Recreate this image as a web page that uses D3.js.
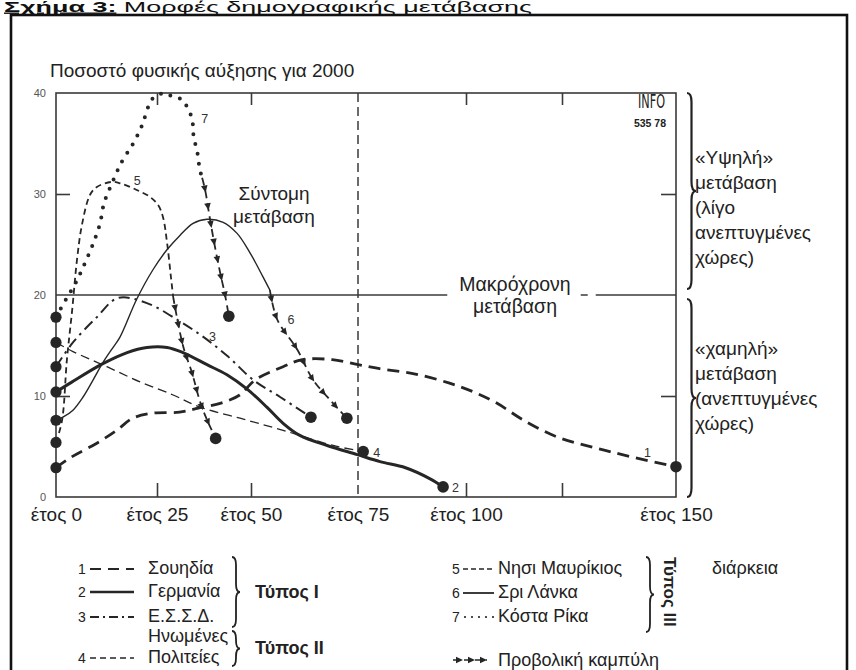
<!DOCTYPE html>
<html><head><meta charset="utf-8">
<script src="https://cdn.jsdelivr.net/npm/d3@7"></script>
<style>
body{margin:0;background:#fff}
svg{display:block}
text{font-family:"Liberation Sans",Arial,Helvetica,sans-serif;fill:#222}
</style>
</head><body>
<svg id="c" width="856" height="670"></svg>
<script>
// ---------- DATA ----------
const yearTicks = [0,25,50,75,100,125,150];
const yearLabels = [0,25,50,75,100,150];
const innerYearTicks = [25,50,100,125];
const valueTicks = [0,10,20,30,40];

const swedenYears  = [0,4,10,15,19,24,31,36,42,47,51,57.5,62,69,75,80,88,96,102,108,115,124,132,140,150];
const swedenValues = [2.9,4.0,5.3,6.6,7.8,8.3,8.4,8.8,9.3,10.1,11.6,12.9,13.6,13.6,13.1,12.7,12.2,11.3,10.4,9.3,7.6,5.9,4.9,4.0,3.0];

const germanyYears  = [0,4,11.6,17.6,22.5,27.7,31.9,38.3,43.6,48.9,53.7,57.5,61.4,67.8,74.8,80.1,86,91.7,94.7];
const germanyValues = [10.4,11.4,13.2,14.3,14.8,14.8,14.3,13.1,12.1,10.7,8.9,7.3,6.1,5.1,4.2,3.5,2.9,1.8,1.0];

const ussrYears  = [0,4.2,10.1,15.3,22.5,30.6,37.5,43.9,50.5,56.8,64.0];
const ussrValues = [12.9,15.3,17.8,19.7,19.2,17.5,15.8,13.9,11.6,9.9,7.9];

const usaYears  = [0,4.2,12.6,20.8,29.3,36.4,47.1,57.5,69.2,76.2];
const usaValues = [15.3,14.4,12.9,11.4,10.1,8.9,7.8,6.6,5.1,4.5];

const mauritiusYears  = [0,1.5,2.7,4.0,5.2,6.4,8.4,10.1,13.9,16.3,20.0,23.3,25.3,26.6,27.7,28.7,29.3];
const mauritiusValues = [5.4,7.6,13.6,18.5,23.5,26.9,29.9,30.7,31.2,31.0,30.4,29.7,28.9,27.7,25.1,21.8,19.8];
const mauritiusProjYears  = [29.3,31.9,34.3,36.4,38.0,40.6];
const mauritiusProjValues = [19.8,15.0,12.3,9.5,7.9,5.8];

const sriLankaYears  = [0,1.7,4.2,6.7,9.2,11.6,14.1,15.8,20.0,24.0,27.7,31.1,34.6,38.3,42.6,46.3,49.7,52.8,54.4];
const sriLankaValues = [7.6,7.9,8.6,9.9,11.6,13.3,14.8,15.8,19.6,22.5,24.5,25.9,27.1,27.5,27.2,26.1,24.2,21.8,20.5];
const sriLankaProjYears  = [54.4,56.1,60.8,64.5,68.5,72.4];
const sriLankaProjValues = [20.5,17.6,14.6,11.6,9.6,7.8];

const costaRicaYears  = [0,2.5,5.0,7.2,9.2,10.9,11.9,13.9,16.3,19.1,21.3,22.8,24.0,25.3,27.2,29.3,31.9,33.2,34.3,34.8,35.6,36.4,37.0];
const costaRicaValues = [17.8,19.6,21.3,23.2,25.1,27.1,29.1,31.1,33.2,35.0,36.8,38.6,39.5,39.8,40.0,39.6,39.3,38.4,37.5,35.5,34.4,32.4,31.6];
const costaRicaProjYears  = [37.0,37.8,39.1,40.4,41.8,43.1,44.1];
const costaRicaProjValues = [31.6,30.4,27.5,24.8,22.2,20.0,17.9];

const seriesIds    = ["1","2","3","4","5","6","7"];
const seriesNames  = ["Σουηδία","Γερμανία","Ε.Σ.Σ.Δ.","Πολιτείες","Νησι Μαυρίκιος","Σρι Λάνκα","Κόστα Ρίκα"];

// ---------- SCALES ----------
const svg = d3.select("#c");
const x = d3.scaleLinear().domain(yearTicks).range([56,157,251,358,466,562,676]);
const y = d3.scaleLinear().domain([0,40]).range([497,93]);
const ink = "#262626";

const zip = (a,b)=>a.map((v,i)=>[v,b[i]]);
const line = d3.line().x(d=>x(d[0])).y(d=>y(d[1])).curve(d3.curveCatmullRom.alpha(0.5));

// ---------- PAGE FRAME & HEADER ----------
svg.append("rect").attr("x",11).attr("y",15).attr("width",836).attr("height",700)
  .attr("fill","none").attr("stroke","#111").attr("stroke-width",2.6);
const hdr = svg.append("text").attr("x",4).attr("y",11.5).attr("font-size",14)
  .attr("textLength",528).attr("lengthAdjust","spacingAndGlyphs").style("fill","#111");
hdr.append("tspan").attr("font-weight","bold").attr("text-decoration","underline").text("Σχήμα 3:");
hdr.append("tspan").text(" Μορφές δημογραφικής μετάβασης");

// ---------- PLOT FRAME ----------
const g = svg.append("g");
g.append("rect").attr("x",x(0)).attr("y",y(40)).attr("width",x(150)-x(0)).attr("height",y(0)-y(40))
  .attr("fill","none").attr("stroke","#3a3a3a").attr("stroke-width",1.6);

g.append("g").attr("transform",`translate(0,${y(0)})`)
  .call(d3.axisBottom(x).tickValues(innerYearTicks).tickSize(-14).tickFormat(""))
  .call(s=>s.select(".domain").remove())
  .call(s=>s.selectAll("line").attr("stroke","#3a3a3a").attr("stroke-width",1.6));
g.append("g").attr("transform",`translate(0,${y(40)})`)
  .call(d3.axisTop(x).tickValues(innerYearTicks).tickSize(-12).tickFormat(""))
  .call(s=>s.select(".domain").remove())
  .call(s=>s.selectAll("line").attr("stroke","#3a3a3a").attr("stroke-width",1.6));

g.append("g").attr("transform",`translate(${x(0)},0)`)
  .call(d3.axisLeft(y).tickValues([10,30]).tickSize(-14).tickFormat(""))
  .call(s=>s.select(".domain").remove())
  .call(s=>s.selectAll("line").attr("stroke","#3a3a3a").attr("stroke-width",1.6));
g.append("g").attr("transform",`translate(${x(150)},0)`)
  .call(d3.axisRight(y).tickValues([10,30]).tickSize(-15).tickFormat(""))
  .call(s=>s.select(".domain").remove())
  .call(s=>s.selectAll("line").attr("stroke","#3a3a3a").attr("stroke-width",1.6));

g.append("g").attr("transform",`translate(${x(0)},0)`)
  .call(d3.axisLeft(y).tickValues(valueTicks).tickSize(0).tickPadding(10))
  .call(s=>s.select(".domain").remove())
  .call(s=>s.selectAll("text").attr("font-size",11).style("fill","#555")
     .style("font-family","'Liberation Sans',Arial,sans-serif"));

g.append("g").attr("transform",`translate(0,${y(0)})`)
  .call(d3.axisBottom(x).tickValues(yearLabels).tickSize(0).tickPadding(11).tickFormat(d=>"έτος "+d))
  .call(s=>s.select(".domain").remove())
  .call(s=>s.selectAll("text").attr("font-size",19).style("fill","#1e1e1e")
     .style("font-family","'Liberation Sans',Arial,sans-serif"));

g.append("line").attr("x1",x(75)).attr("x2",x(75)).attr("y1",y(40)).attr("y2",y(0))
  .attr("stroke","#3a3a3a").attr("stroke-width",1.5).attr("stroke-dasharray","9,5");

const mk = g.append("text").attr("x",515).attr("y",y(20)-4).attr("text-anchor","middle")
  .attr("font-size",19.5).text("Μακρόχρονη");
const bb = mk.node().getBBox();
g.append("line").attr("x1",x(0)).attr("x2",bb.x-12).attr("y1",y(20)).attr("y2",y(20))
  .attr("stroke","#3a3a3a").attr("stroke-width",1.5);
g.append("line").attr("x1",bb.x+bb.width+10).attr("x2",bb.x+bb.width+17).attr("y1",y(20)).attr("y2",y(20))
  .attr("stroke","#3a3a3a").attr("stroke-width",1.5);
g.append("line").attr("x1",bb.x+bb.width+25).attr("x2",x(150)).attr("y1",y(20)).attr("y2",y(20))
  .attr("stroke","#3a3a3a").attr("stroke-width",1.5);
g.append("text").attr("x",515).attr("y",y(20)+18).attr("text-anchor","middle").attr("font-size",19.5).text("μετάβαση");

g.append("text").attr("x",274).attr("y",200).attr("text-anchor","middle").attr("font-size",19).text("Σύντομη");
g.append("text").attr("x",274).attr("y",223).attr("text-anchor","middle").attr("font-size",19).text("μετάβαση");

svg.append("text").attr("x",50).attr("y",77).attr("font-size",19).text("Ποσοστό φυσικής αύξησης για 2000");

g.append("text").attr("x",665).attr("y",108).attr("text-anchor","end").attr("font-size",19)
  .attr("font-weight",300).attr("textLength",27).attr("lengthAdjust","spacingAndGlyphs")
  .style("font-family","'DejaVu Sans Condensed','Liberation Sans Narrow',sans-serif").text("INFO");
g.append("text").attr("x",666).attr("y",127).attr("text-anchor","end").attr("font-size",10.5)
  .attr("font-weight","bold").text("535 78");

// ---------- SERIES ----------
const cg = g.append("g").attr("fill","none").attr("stroke",ink);
function drawPath(data, opts){
  return cg.append("path").datum(data).attr("d",line)
    .attr("stroke-width",opts.w).attr("stroke-dasharray",opts.dash||null)
    .attr("stroke-linecap",opts.cap||"butt");
}
function arrowsAlong(node, step, start){
  const L = node.getTotalLength();
  for(let s=start; s<L-6; s+=step){
    const p=node.getPointAtLength(s), q=node.getPointAtLength(Math.max(0,s-2));
    const a=Math.atan2(p.y-q.y,p.x-q.x)*180/Math.PI;
    g.append("path").attr("d","M1,0 L-6,-3.3 L-6,3.3 Z").attr("fill",ink)
      .attr("transform",`translate(${p.x},${p.y}) rotate(${a})`);
  }
}
drawPath(zip(swedenYears,swedenValues),{w:2.8,dash:"12,7"});
drawPath(zip(germanyYears,germanyValues),{w:3});
drawPath(zip(ussrYears,ussrValues),{w:2,dash:"11,5,2.5,5"});
drawPath(zip(usaYears,usaValues),{w:1.3,dash:"9,5"});
drawPath(zip(mauritiusYears,mauritiusValues),{w:1.8,dash:"6,4"});
const p5 = drawPath(zip(mauritiusProjYears,mauritiusProjValues),{w:1.8,dash:"7,5"});
drawPath(zip(sriLankaYears,sriLankaValues),{w:1.4});
const p6 = drawPath(zip(sriLankaProjYears,sriLankaProjValues),{w:1.8,dash:"8,5"});
drawPath(zip(costaRicaYears,costaRicaValues),{w:4,dash:"0,10",cap:"round"});
const p7 = drawPath(zip(costaRicaProjYears,costaRicaProjValues),{w:1.8,dash:"8,5"});
arrowsAlong(p5.node(),17,14);
arrowsAlong(p6.node(),18,12);
arrowsAlong(p7.node(),18,14);

const startValues = [swedenValues[0],germanyValues[0],ussrValues[0],usaValues[0],mauritiusValues[0],sriLankaValues[0],costaRicaValues[0]];
g.selectAll("circle.s").data(startValues).join("circle").attr("class","s")
  .attr("cx",x(0)).attr("cy",d=>y(d)).attr("r",5.6).attr("fill",ink);
const endPoints = [
  [swedenYears.at(-1),swedenValues.at(-1)],
  [germanyYears.at(-1),germanyValues.at(-1)],
  [ussrYears.at(-1),ussrValues.at(-1)],
  [usaYears.at(-1),usaValues.at(-1)],
  [mauritiusProjYears.at(-1),mauritiusProjValues.at(-1)],
  [sriLankaProjYears.at(-1),sriLankaProjValues.at(-1)],
  [costaRicaProjYears.at(-1),costaRicaProjValues.at(-1)]];
g.selectAll("circle.e").data(endPoints).join("circle").attr("class","e")
  .attr("cx",d=>x(d[0])).attr("cy",d=>y(d[1])).attr("r",5.8).attr("fill",ink);

const lab = (t,xx,yy)=>g.append("text").attr("x",xx).attr("y",yy).attr("font-size",12.5).style("fill","#333").text(t);
lab("1", 644, y(4.0));
lab("2", x(94.7)+9, y(1.0)+5);
lab("3", x(37.5)+5, y(15.8)+4);
lab("4", x(76.2)+10, y(4.5)+5);
lab("5", x(20.0)-3, y(30.9));
lab("6", x(58.5), y(17.5)+4);
lab("7", x(36.0)+3, y(37.0));

// ---------- RIGHT BRACES ----------
function brace(xx,y0,y1,w){
  const m=(y0+y1)/2;
  return `M${xx},${y0} Q${xx+w},${y0} ${xx+w},${y0+w*2} L${xx+w},${m-w*2} Q${xx+w},${m} ${xx+w*2},${m} `+
         `Q${xx+w},${m} ${xx+w},${m+w*2} L${xx+w},${y1-w*2} Q${xx+w},${y1} ${xx},${y1}`;
}
svg.append("path").attr("d",brace(687,y(40),y(20)-6,4.5)).attr("fill","none").attr("stroke","#222").attr("stroke-width",2.2);
svg.append("path").attr("d",brace(687,y(20)+4,y(0),4.5)).attr("fill","none").attr("stroke","#222").attr("stroke-width",2.2);

const rt = (lines,y0)=>lines.forEach((t,i)=>svg.append("text").attr("x",695).attr("y",y0+i*25).attr("font-size",19).text(t));
rt(["«Υψηλή»","μετάβαση","(λίγο","ανεπτυγμένες","χώρες)"],164);
rt(["«χαμηλή»","μετάβαση","(ανεπτυγμένες","χώρες)"],355);

// ---------- LEGEND ----------
const L = svg.append("g");
const lt = (t,xx,yy,o={})=>L.append("text").attr("x",xx).attr("y",yy).attr("font-size",o.fs||18)
   .attr("font-weight",o.b?"bold":null).text(t);
const ls = (x1,x2,yy,w,dash,cap)=>L.append("line").attr("x1",x1).attr("x2",x2).attr("y1",yy).attr("y2",yy)
   .attr("stroke",ink).attr("stroke-width",w).attr("stroke-dasharray",dash||null).attr("stroke-linecap",cap||"butt");
const rowsL=[574,597,622,663];
lt(seriesIds[0],78,rowsL[0],{fs:14}); ls(90,134,rowsL[0]-5,2.2,"11,7"); lt(seriesNames[0],148,rowsL[0]);
lt(seriesIds[1],78,rowsL[1],{fs:14}); ls(90,134,rowsL[1]-5,2.6);        lt(seriesNames[1],148,rowsL[1]);
lt(seriesIds[2],78,rowsL[2],{fs:14}); ls(90,134,rowsL[2]-5,1.8,"9,4,2,4"); lt(seriesNames[2],148,rowsL[2]);
lt("Ηνωμένες",148,642);
lt(seriesIds[3],78,rowsL[3],{fs:14}); ls(90,134,rowsL[3]-5,1.3,"6,4"); lt(seriesNames[3],148,rowsL[3]);
L.append("path").attr("d",brace(232,557,627,4)).attr("fill","none").attr("stroke","#222").attr("stroke-width",1.8);
L.append("path").attr("d",brace(232,631,666,4)).attr("fill","none").attr("stroke","#222").attr("stroke-width",1.8);
lt("Τύπος I",255,598,{b:true});
lt("Τύπος II",255,654,{b:true});

const rowsR=[574,598,622];
lt(seriesIds[4],452,rowsR[0],{fs:14}); ls(463,494,rowsR[0]-5,1.5,"5,3"); lt(seriesNames[4],498,rowsR[0]);
lt(seriesIds[5],452,rowsR[1],{fs:14}); ls(463,494,rowsR[1]-5,1.8);      lt(seriesNames[5],498,rowsR[1]);
lt(seriesIds[6],452,rowsR[2],{fs:14}); ls(465,494,rowsR[2]-5,2.2,"0,7","round"); lt(seriesNames[6],498,rowsR[2]);
L.append("path").attr("d",brace(646,557,632,4)).attr("fill","none").attr("stroke","#222").attr("stroke-width",1.8);
L.append("text").attr("transform","translate(664,557) rotate(90)").attr("font-size",17).attr("font-weight","bold").text("Τύπος III");
lt("διάρκεια",712,574);
ls(453,487,660,1.6,"6,5");
[462,474,486].forEach(xx=>L.append("path").attr("d","M1,0 L-6,-3.3 L-6,3.3 Z").attr("fill",ink)
   .attr("transform",`translate(${xx},660)`));
lt("Προβολική καμπύλη",498,666);
</script>
</body></html>
